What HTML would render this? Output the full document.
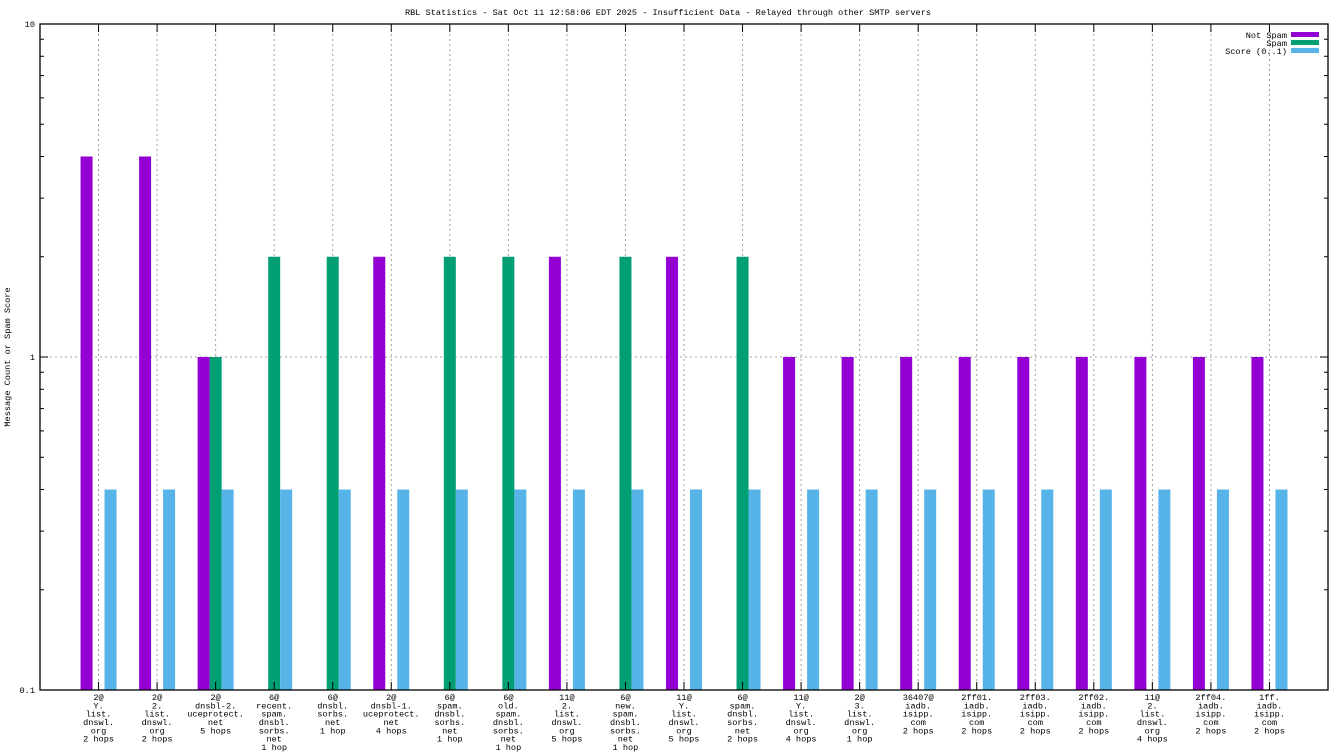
<!DOCTYPE html>
<html><head><meta charset="utf-8"><style>
html,body{margin:0;padding:0;background:#fff}
svg{display:block}
text{font-family:"Liberation Mono","DejaVu Sans Mono",monospace;font-size:8.6px;fill:#000}
</style></head><body>
<svg id="chart" width="1344" height="756" xmlns="http://www.w3.org/2000/svg">
<text x="668" y="15" text-anchor="middle">RBL Statistics - Sat Oct 11 12:58:06 EDT 2025 - Insufficient Data - Relayed through other SMTP servers</text>
<text transform="translate(10,357) rotate(-90)" text-anchor="middle">Message Count or Spam Score</text>
<g id="grid"></g><g id="bars"></g><g id="axes"></g><g id="labels"></g>
<g>
<text x="1287" y="38" text-anchor="end">Not Spam</text><rect x="1291" y="32" width="28" height="5" fill="#9400d3"/>
<text x="1287" y="46" text-anchor="end">Spam</text><rect x="1291" y="40" width="28" height="5" fill="#009e73"/>
<text x="1287" y="54" text-anchor="end">Score (0..1)</text><rect x="1291" y="48" width="28" height="5" fill="#56b4e9"/>
</g>
</svg>
<script>
const categories=[
["2@","Y.","list.","dnswl.","org","2 hops"],
["2@","2.","list.","dnswl.","org","2 hops"],
["2@","dnsbl-2.","uceprotect.","net","5 hops"],
["6@","recent.","spam.","dnsbl.","sorbs.","net","1 hop"],
["6@","dnsbl.","sorbs.","net","1 hop"],
["2@","dnsbl-1.","uceprotect.","net","4 hops"],
["6@","spam.","dnsbl.","sorbs.","net","1 hop"],
["6@","old.","spam.","dnsbl.","sorbs.","net","1 hop"],
["11@","2.","list.","dnswl.","org","5 hops"],
["6@","new.","spam.","dnsbl.","sorbs.","net","1 hop"],
["11@","Y.","list.","dnswl.","org","5 hops"],
["6@","spam.","dnsbl.","sorbs.","net","2 hops"],
["11@","Y.","list.","dnswl.","org","4 hops"],
["2@","3.","list.","dnswl.","org","1 hop"],
["36407@","iadb.","isipp.","com","2 hops"],
["2ff01.","iadb.","isipp.","com","2 hops"],
["2ff03.","iadb.","isipp.","com","2 hops"],
["2ff02.","iadb.","isipp.","com","2 hops"],
["11@","2.","list.","dnswl.","org","4 hops"],
["2ff04.","iadb.","isipp.","com","2 hops"],
["1ff.","iadb.","isipp.","com","2 hops"]];
const notSpam=[4,4,1,0,0,2,0,0,2,0,2,0,1,1,1,1,1,1,1,1,1];
const spam=[0,0,1,2,2,0,2,2,0,2,0,2,0,0,0,0,0,0,0,0,0];
const score=[0.4,0.4,0.4,0.4,0.4,0.4,0.4,0.4,0.4,0.4,0.4,0.4,0.4,0.4,0.4,0.4,0.4,0.4,0.4,0.4,0.4];
const yTicks=[10,1,0.1];
const yTickLabels=["10","1","0.1"];
const NS="http://www.w3.org/2000/svg";
const L=40,R=1328,T=24,B=690;
const step=(R-L)/(categories.length+1);
const xS=i=>L+(i+1)*step;
const yS=v=>B-(Math.log10(v)+1)/2*(B-T);
function mk(tag,attrs,parent){const e=document.createElementNS(NS,tag);for(const k in attrs)e.setAttribute(k,attrs[k]);document.getElementById(parent).appendChild(e);return e;}
// grid
categories.forEach((c,i)=>{const g=mk('line',{x1:xS(i),x2:xS(i),y1:T,y2:B,stroke:'#a0a0a0','stroke-dasharray':'2,3'},'grid');

});
const hg=mk('line',{x1:L,x2:R,y1:yS(1),y2:yS(1),stroke:'#a0a0a0','stroke-dasharray':'2,3'},'grid');


// bars
const series=[[notSpam,'#9400d3',-18,'not-spam-bar'],[spam,'#009e73',-6,'spam-bar'],[score,'#56b4e9',6,'score-bar']];
series.forEach(([arr,col,off,nm])=>{arr.forEach((v,i)=>{if(v<=0)return;const y=yS(v);
const r=mk('rect',{x:xS(i)+off,y:y,width:12,height:B-y,fill:col},'bars');

});});
// axes
const fr=mk('rect',{x:L,y:T,width:R-L,height:B-T,fill:'none',stroke:'#000','stroke-width':1.3},'axes');


for(let d=-1;d<1;d++){for(let m=1;m<10;m++){const v=m*Math.pow(10,d);const y=yS(v);const len=m===1?8:4;
mk('line',{x1:L,x2:L+len,y1:y,y2:y,stroke:'#000'},'axes');mk('line',{x1:R,x2:R-len,y1:y,y2:y,stroke:'#000'},'axes');}}
yTicks.forEach((v,i)=>{const t=mk('text',{x:35,y:yS(v)+3,'text-anchor':'end'},'axes');t.textContent=yTickLabels[i];

});
categories.forEach((c,i)=>{const x=xS(i);mk('line',{x1:x,x2:x,y1:T,y2:T+8,stroke:'#000'},'axes');mk('line',{x1:x,x2:x,y1:B,y2:B-8,stroke:'#000'},'axes');
c.forEach((ln,j)=>{const t=mk('text',{x:x,y:700+j*8.33,'text-anchor':'middle'},'labels');t.textContent=ln;

});});
</script>
</body></html>
